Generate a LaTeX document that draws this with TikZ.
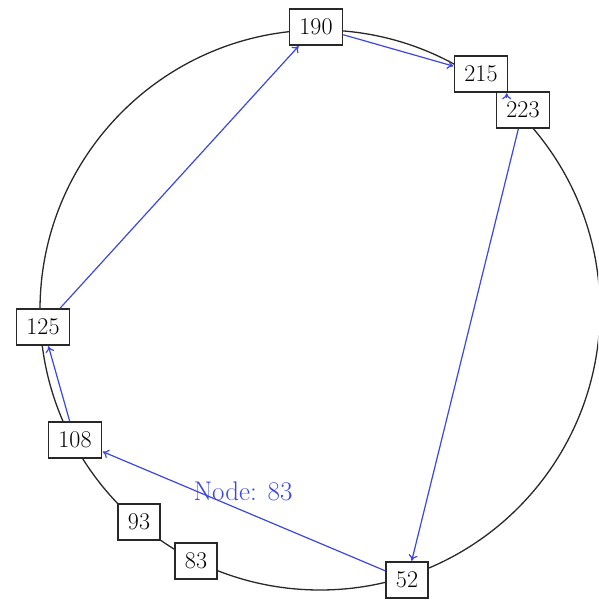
\documentclass[tikz,border=0pt]{standalone}
\usetikzlibrary{arrows.meta}
\definecolor{ringgray}{RGB}{40,40,40}
\definecolor{linkblue}{RGB}{60,70,225}
\begin{document}
\begin{tikzpicture}[x=1pt,y=1pt,
  idbox/.style={draw=ringgray,line width=1.5pt,fill=white,minimum height=36pt,
    inner xsep=10pt,inner ysep=0pt,font=\fontsize{24}{26}\selectfont},
  hop/.style={draw=linkblue,line width=1.2pt,-{To[length=6pt,width=9pt]},shorten >=0.5pt},
  lbl/.style={text=linkblue,font=\fontsize{27}{30}\selectfont}]
\useasboundingbox (0,0) rectangle (598,600);
\begin{scope}
\clip (0,0) rectangle (598,600);
\draw[ringgray,line width=1.3pt] (320,290) circle (280);
\end{scope}
\node[idbox] (n190) at (316,573) {190};
\node[idbox] (n215) at (481,526) {215};
\node[idbox] (n223) at (523,490) {223};
\node[idbox] (n125) at (43,273) {125};
\node[idbox] (n108) at (75,160) {108};
\node[idbox] (n93) at (139,78) {93};
\node[idbox] (n83) at (196,39) {83};
\node[idbox] (n52) at (407,20) {52};
\draw[hop] (n52) -- (n108);
\draw[hop] (n108) -- (n125);
\draw[hop] (n125) -- (n190);
\draw[hop] (n190) -- (n215);
\coordinate (c223) at ([xshift=11pt,yshift=-7pt]n223.north west);
\draw[hop] (c223) -- (n215.south -| c223);
\draw[hop] (n223) -- (n52);
\node[lbl] (lab) at (243,109) {Node: 83};
\end{tikzpicture}
\end{document}
